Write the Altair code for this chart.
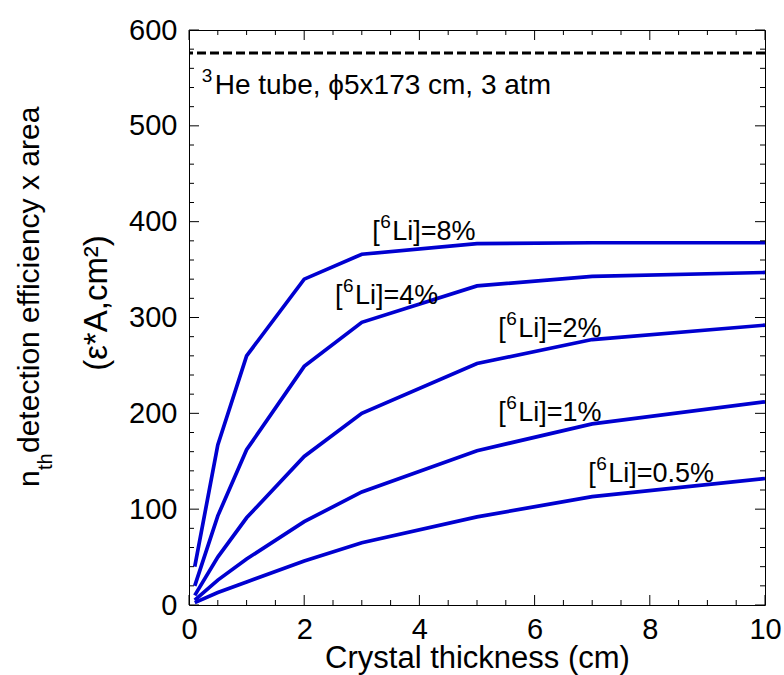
import altair as alt
import pandas as pd

# Crystal thickness (cm) at which each curve was evaluated
thickness = [0.1, 0.5, 1, 2, 3, 5, 7, 10]

# efficiency x area (cm^2) for each 6Li enrichment
li_8 = [40, 167, 260, 340, 366, 377, 378, 378]
li_4 = [20, 93, 162, 249, 295, 333, 343, 347]
li_2 = [10, 50, 91, 155, 200, 252, 277, 292]
li_1 = [5, 26, 48, 87, 118, 161, 189, 212]
li_05 = [2.5, 13, 24, 46, 65, 92, 113, 132]

# reference level of the 3He tube
he3_level = 576

series_names = ["8%", "4%", "2%", "1%", "0.5%"]
label_x = [3.18, 2.535, 5.37, 5.37, 6.93]
label_y = [381, 314, 280, 192, 128]

he3_text = "He tube, \u03d55x173 cm, 3 atm"
he3_x = [0.22]
he3_y = [533]

x_major = [0, 2, 4, 6, 8, 10]
x_minor = [0.5, 1, 1.5, 2.5, 3, 3.5, 4.5, 5, 5.5, 6.5, 7, 7.5, 8.5, 9, 9.5]
y_major = [0, 100, 200, 300, 400, 500, 600]
y_minor = [20, 40, 60, 80, 120, 140, 160, 180, 220, 240, 260, 280,
           320, 340, 360, 380, 420, 440, 460, 480, 520, 540, 560, 580]

FONT = "Liberation Sans, Arial, Helvetica, sans-serif"
BLUE = "#0000d0"
W, H = 576, 575
MAJ, MIN = 10, 5

curves = pd.DataFrame(
    [
        {"series": name, "t": t, "v": v}
        for name, vals in zip(series_names, [li_8, li_4, li_2, li_1, li_05])
        for t, v in zip(thickness, vals)
    ]
)
labels = pd.DataFrame({"name": series_names, "x": label_x, "y": label_y})
labels["tail"] = "Li]=" + labels["name"]
labels["open"] = "["
labels["sup"] = "6"

he3 = pd.DataFrame({"x": he3_x, "y": he3_y, "text": [he3_text], "sup": ["3"]})
level = pd.DataFrame({"y": [he3_level]})

xs = alt.Scale(domain=[0, 10], nice=False, zero=False)
ys = alt.Scale(domain=[0, 600], nice=False, zero=False)

x_axis = alt.Axis(
    values=x_major, format="d", ticks=False, tickSize=0, domain=False, grid=False,
    labelFont=FONT, labelFontSize=29, labelColor="black", labelPadding=10,
    labelFlush=False, labelOverlap=False,
    title="Crystal thickness (cm)", titleFont=FONT, titleFontSize=31,
    titleFontWeight="normal", titleColor="black", titleBaseline="alphabetic",
    titleY=62,
)
y_axis = alt.Axis(
    values=y_major, format="d", ticks=False, tickSize=0, domain=False, grid=False,
    labelFont=FONT, labelFontSize=29, labelColor="black", labelPadding=12,
    labelFlush=False, labelOverlap=False, title=None,
)


def X(field):
    return alt.X(field, scale=xs, axis=x_axis)


def Y(field):
    return alt.Y(field, scale=ys, axis=y_axis)


lines = alt.Chart(curves).mark_line(color=BLUE, strokeWidth=3.7).encode(
    x=X("t:Q"),
    y=Y("v:Q"),
    detail="series:N",
    order="t:Q",
)

dashed = alt.Chart(level).mark_rule(
    color="black", strokeWidth=3, strokeDash=[9, 4]
).encode(y=Y("y:Q"))


# inward tick marks on all four sides
def xticks(vals, length):
    df = pd.DataFrame({"x": vals})
    bottom = alt.Chart(df).mark_rule(color="black", strokeWidth=1).encode(
        x=X("x:Q"), y=alt.value(H), y2=alt.value(H - length)
    )
    top = alt.Chart(df).mark_rule(color="black", strokeWidth=1).encode(
        x=X("x:Q"), y=alt.value(0), y2=alt.value(length)
    )
    return [bottom, top]


def yticks(vals, length):
    df = pd.DataFrame({"y": vals})
    left = alt.Chart(df).mark_rule(color="black", strokeWidth=1).encode(
        y=Y("y:Q"), x=alt.value(0), x2=alt.value(length)
    )
    right = alt.Chart(df).mark_rule(color="black", strokeWidth=1).encode(
        y=Y("y:Q"), x=alt.value(W), x2=alt.value(W - length)
    )
    return [left, right]


ticks = xticks(x_major, MAJ) + xticks(x_minor, MIN) + yticks(y_major, MAJ) + yticks(y_minor, MIN)

pos = dict(x=X("x:Q"), y=Y("y:Q"))
lab_open = alt.Chart(labels).mark_text(
    align="left", baseline="alphabetic", font=FONT, fontSize=27, color="black"
).encode(text="open:N", **pos)
lab_sup = alt.Chart(labels).mark_text(
    align="left", baseline="alphabetic", font=FONT, fontSize=19, color="black", dx=8, dy=-12
).encode(text="sup:N", **pos)
lab_tail = alt.Chart(labels).mark_text(
    align="left", baseline="alphabetic", font=FONT, fontSize=27, color="black", dx=20
).encode(text="tail:N", **pos)

he3_sup = alt.Chart(he3).mark_text(
    align="left", baseline="alphabetic", font=FONT, fontSize=19, color="black", dy=-12
).encode(text="sup:N", **pos)
he3_main = alt.Chart(he3).mark_text(
    align="left", baseline="alphabetic", font=FONT, fontSize=28, color="black", dx=13
).encode(text="text:N", **pos)

# vertical axis title, built from pieces so that "th" can sit as a subscript
ytitle_parts = pd.DataFrame(
    {
        "text": ["n", "th", " detection efficiency x area"],
        "px": [-150, -137, -150],
        "py": [457, 440, 423],
        "fs": [30, 20, 30],
    }
)
ytitle_line2 = pd.DataFrame({"text": ["(\u03b5*A,cm\u00b2)"], "px": [-82], "py": [273]})

ytitle_a = alt.Chart(ytitle_parts).mark_text(
    angle=270, align="left", baseline="alphabetic", font=FONT, color="black"
).encode(
    x=alt.X("px:Q", scale=None, axis=None),
    y=alt.Y("py:Q", scale=None, axis=None),
    size=alt.Size("fs:Q", scale=None, legend=None),
    text="text:N",
)
ytitle_b = alt.Chart(ytitle_line2).mark_text(
    angle=270, align="center", baseline="alphabetic", font=FONT, fontSize=33, color="black"
).encode(
    x=alt.X("px:Q", scale=None, axis=None),
    y=alt.Y("py:Q", scale=None, axis=None),
    text="text:N",
)

chart = (
    alt.layer(lines, dashed, *ticks, lab_open, lab_sup, lab_tail, he3_sup, he3_main,
              ytitle_a, ytitle_b)
    .resolve_scale(size="independent")
    .properties(
        width=W,
        height=H,
        autosize=alt.AutoSizeParams(type="none"),
        padding={"left": 189, "top": 30, "right": 19, "bottom": 70},
        background="white",
    )
    .configure_view(stroke="black", strokeWidth=1)
)

chart.save("out.html", embed_options={"renderer": "svg", "actions": False})
